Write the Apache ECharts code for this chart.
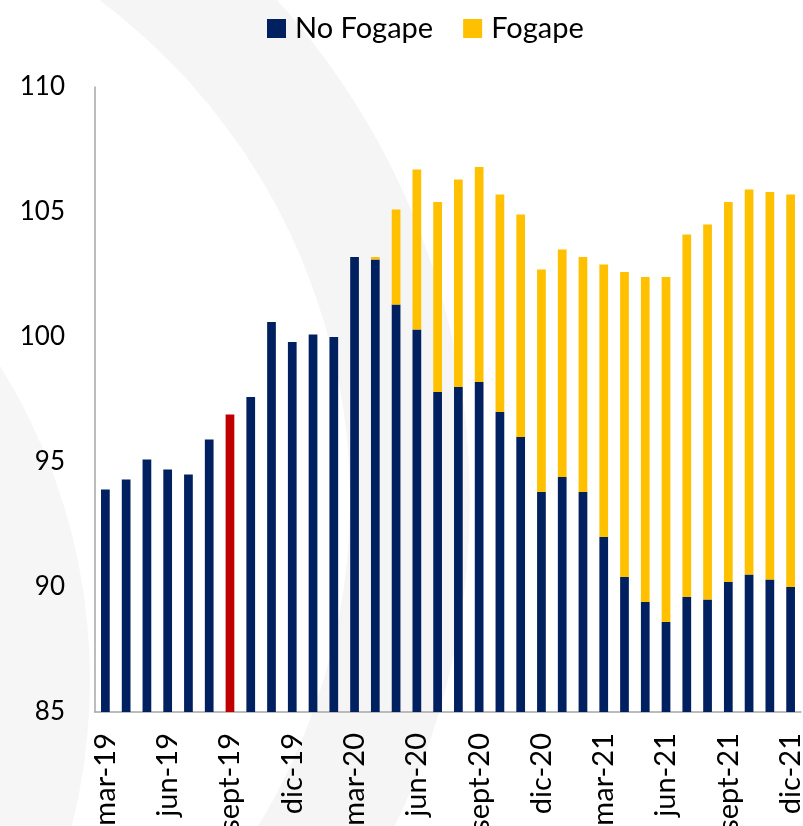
<!DOCTYPE html>
<html lang="es">
<head>
    <meta charset="UTF-8">
    <title>Fogape</title>
    <script src="https://cdn.jsdelivr.net/npm/echarts@6/dist/echarts.min.js"></script>
    <style>
        html, body { margin: 0; padding: 0; background: #fff; }
        #main { width: 803px; height: 826px; }
    </style>
</head>
<body>
<div id="main"></div>
<script type="text/javascript">
    // meses mar-19 .. dic-21
    var meses = ['mar-19','abr-19','may-19','jun-19','jul-19','ago-19','sept-19','oct-19','nov-19','dic-19',
        'ene-20','feb-20','mar-20','abr-20','may-20','jun-20','jul-20','ago-20','sept-20','oct-20','nov-20','dic-20',
        'ene-21','feb-21','mar-21','abr-21','may-21','jun-21','jul-21','ago-21','sept-21','oct-21','nov-21','dic-21'];
    var noFogape = [93.9, 94.3, 95.1, 94.7, 94.5, 95.9, 96.9, 97.6, 100.6, 99.8,
        100.1, 100.0, 103.2, 103.1, 101.3, 100.3, 97.8, 98.0, 98.2, 97.0, 96.0, 93.8,
        94.4, 93.8, 92.0, 90.4, 89.4, 88.6, 89.6, 89.5, 90.2, 90.5, 90.3, 90.0];
    var totalConFogape = [93.9, 94.3, 95.1, 94.7, 94.5, 95.9, 96.9, 97.6, 100.6, 99.8,
        100.1, 100.0, 103.2, 103.2, 105.1, 106.7, 105.4, 106.3, 106.8, 105.7, 104.9, 102.7,
        103.5, 103.2, 102.9, 102.6, 102.4, 102.4, 104.1, 104.5, 105.4, 105.9, 105.8, 105.7];
    var ticksY = [85, 90, 95, 100, 105, 110];
    var mesRojo = 'sept-19';

    var fogape = totalConFogape.map(function (t, i) {
        return +(t - noFogape[i]).toFixed(2);
    });
    var baseData = noFogape.map(function (v, i) {
        if (meses[i] === mesRojo) {
            return { value: v, itemStyle: { color: '#C00000' } };
        }
        return v;
    });

    var myChart = echarts.init(document.getElementById('main'));
    var fuente = 'Lato, "Liberation Sans", sans-serif';
    var option = {
        animation: false,
        textStyle: { fontFamily: fuente },
        // marca de agua gris de fondo
        graphic: [
            {
                type: 'circle', z: -10, silent: true,
                shape: { cx: -503, cy: 680, r: 593 },
                style: { fill: '#F6F6F6' }
            },
            {
                type: 'ring', z: -10, silent: true,
                shape: { cx: -274, cy: 500, r: 744, r0: 624 },
                style: { fill: '#F5F5F5' }
            }
        ],
        legend: {
            top: 9,
            left: 262,
            icon: 'rect',
            itemWidth: 19,
            itemHeight: 19,
            itemGap: 30,
            textStyle: { fontSize: 29, color: '#000', fontFamily: fuente, padding: [0, 0, 0, 4] },
            data: ['No Fogape', 'Fogape']
        },
        grid: { left: 95, right: 2, top: 87, bottom: 114, containLabel: false, outerBoundsMode: 'none' },
        xAxis: {
            type: 'category',
            data: meses,
            axisLine: { lineStyle: { color: '#A6A6A6', width: 1.5 } },
            axisTick: { show: false },
            axisLabel: {
                interval: 2,
                rotate: 90,
                margin: 21,
                fontSize: 29,
                color: '#000',
                fontFamily: fuente
            }
        },
        yAxis: {
            type: 'value',
            min: ticksY[0],
            max: ticksY[ticksY.length - 1],
            interval: 5,
            axisLine: { show: true, lineStyle: { color: '#A6A6A6', width: 1.5 } },
            axisTick: { show: false },
            splitLine: { show: false },
            axisLabel: { margin: 30, fontSize: 26, color: '#000', fontFamily: fuente }
        },
        series: [
            {
                name: 'No Fogape',
                type: 'bar',
                stack: 'total',
                barWidth: '42%',
                itemStyle: { color: '#002060' },
                data: baseData
            },
            {
                name: 'Fogape',
                type: 'bar',
                stack: 'total',
                barWidth: '42%',
                itemStyle: { color: '#FFC000' },
                data: fogape
            }
        ]
    };
    myChart.setOption(option);
</script>
</body>
</html>
